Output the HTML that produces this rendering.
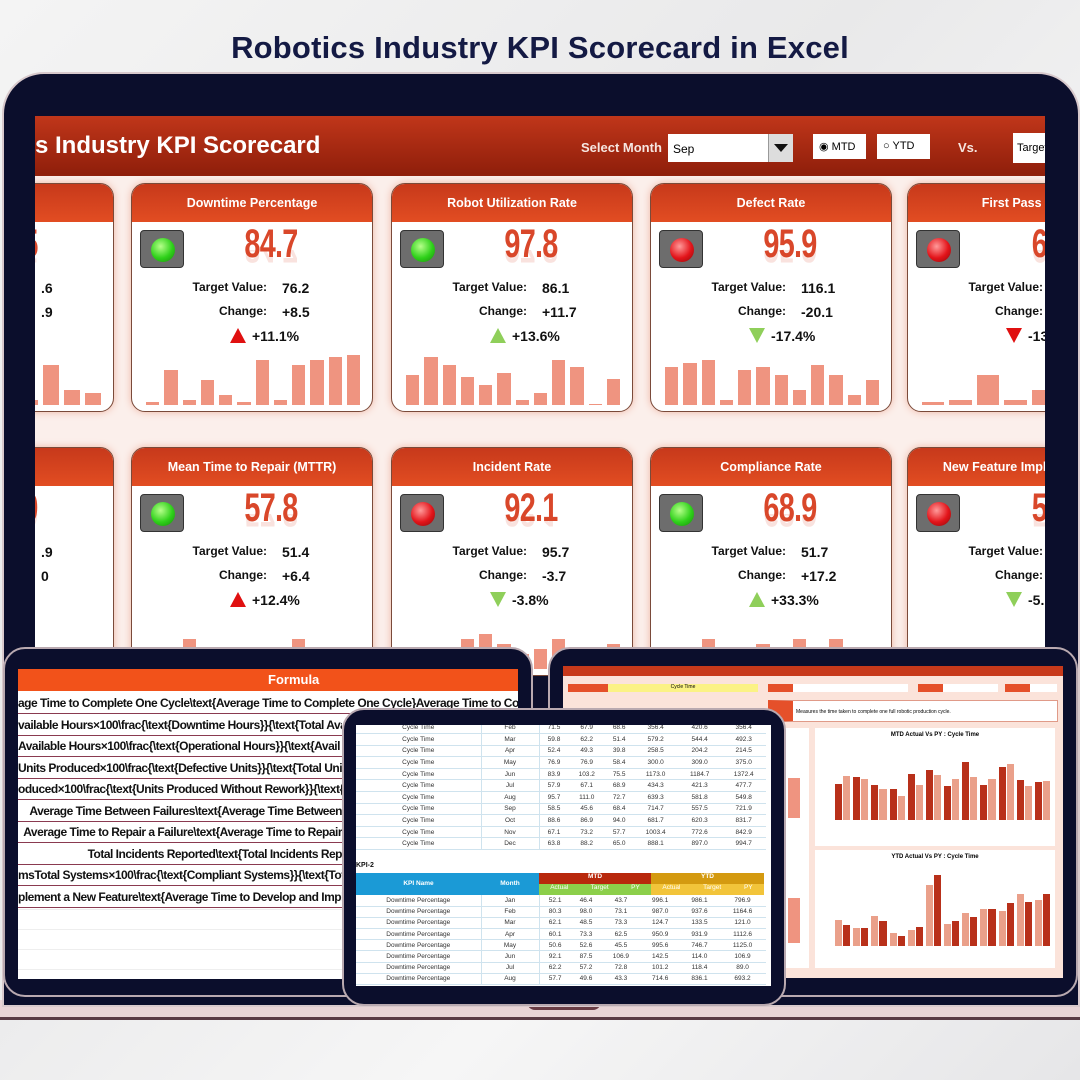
<!DOCTYPE html>
<html><head><meta charset="utf-8">
<style>
*{margin:0;padding:0;box-sizing:border-box}
body{width:1080px;height:1080px;overflow:hidden;background:linear-gradient(135deg,#f4f4f4,#e9e9ea 40%,#f6f6f6 70%,#e6e6e8);font-family:"Liberation Sans",sans-serif;position:relative}
.abs{position:absolute}
h1{position:absolute;top:30px;left:0;width:1080px;text-align:center;font-size:31px;color:#141a44;font-weight:bold;letter-spacing:.2px}
#mon{left:2px;top:72px;width:1078px;height:935px;background:#0b0e2c;border-radius:42px 42px 0 0;border:2px solid #d8c9cc}
#scr{left:35px;top:116px;width:1010px;height:560px;background:#fbefeb;overflow:hidden}
#hdr{left:0;top:0;width:1010px;height:60px;background:linear-gradient(#c0361a,#8e1e0a)}
#hdr .t{left:0;top:16px;color:#fff;font-size:24px;font-weight:bold}
.card{position:absolute;width:242px;height:229px;background:#fff;border:1px solid #7a4a3a;border-radius:14px;overflow:hidden;box-shadow:0 0 8px #f0b6a4}
.card .ch{height:38px;background:linear-gradient(#c7391b,#e24d22);color:#fff;font-weight:bold;font-size:12.5px;text-align:center;line-height:38px;white-space:nowrap}
.lt{position:absolute;left:8px;top:46px;width:44px;height:38px;background:#6d6d6d;border:1px solid #333;border-radius:4px}
.lt i{position:absolute;left:10px;top:7px;width:24px;height:24px;border-radius:50%}
.g{background:radial-gradient(circle at 40% 35%,#b6ff8a,#2fd11a 55%,#178a0a)}
.r{background:radial-gradient(circle at 40% 35%,#ff9a9a,#e3141a 55%,#8a0a0a)}
.big{position:absolute;left:79px;width:120px;top:38px;text-align:center;font-size:40px;font-weight:bold;color:#d9472a;transform:scaleX(.72);letter-spacing:-1px}
.refl{position:absolute;left:79px;width:120px;top:66px;text-align:center;font-size:40px;font-weight:bold;color:#d9472a;transform:scaleX(.72) scaleY(-1);opacity:.15;letter-spacing:-1px;height:20px;overflow:hidden}
.lab{position:absolute;font-size:12px;font-weight:bold;color:#111}
.val{position:absolute;font-size:14px;font-weight:bold;color:#111}
.pct{position:absolute;font-size:14px;font-weight:bold;color:#111}
.bars{position:absolute;left:14px;bottom:6px;width:214px;height:60px;display:flex;align-items:flex-end;gap:5px}
.bars b{flex:1;background:#ef9480}
.tab{border-radius:22px;background:#0b0e2c;border:2px solid #b9a9b0}
table{border-collapse:collapse}
</style></head><body>
<h1>Robotics Industry KPI Scorecard in Excel</h1>
<div class="abs" style="left:0;top:1000px;width:1080px;height:20px;background:#e9d4d6;border-bottom:3px solid #5a3a44"></div>
<div class="abs" style="left:527px;top:1000px;width:74px;height:10px;background:#6a3c44;border-radius:0 0 8px 8px"></div>
<div id="mon" class="abs"></div>
<div id="scr" class="abs">
 <div id="hdr" class="abs"><div class="abs t">s Industry KPI Scorecard</div>
  <div class="abs" style="left:546px;top:24px;color:#f6e6e0;font-weight:bold;font-size:13px">Select Month</div>
  <div class="abs" style="left:633px;top:18px;width:125px;height:28px;background:#fff;font-size:12px;padding:8px 5px">Sep</div>
  <div class="abs" style="left:733px;top:18px;width:25px;height:28px;background:#ddd;border-left:1px solid #999"><div class="abs" style="left:5px;top:10px;border-left:7px solid transparent;border-right:7px solid transparent;border-top:8px solid #111"></div></div>
  <div class="abs" style="left:778px;top:18px;width:53px;height:25px;background:#fff;font-size:11px;padding:6px 6px">◉ MTD</div>
  <div class="abs" style="left:842px;top:18px;width:53px;height:25px;background:#fff;font-size:11px;padding:6px 6px">○ YTD</div>
  <div class="abs" style="left:923px;top:24px;color:#f6e6e0;font-weight:bold;font-size:13px">Vs.</div>
  <div class="abs" style="left:978px;top:17px;width:40px;height:30px;background:#fff;font-size:11px;padding:9px 4px">Target</div>
 </div>
 <div id="cards"></div>
</div>

<div class="abs tab" style="left:3px;top:647px;width:530px;height:350px"></div>
<div class="abs" style="left:18px;top:669px;width:500px;height:310px;background:#fff;overflow:hidden" id="ltab">
 <div class="abs" style="left:0;top:0;width:500px;height:22px;background:#f2521a;color:#fff;font-weight:bold;font-size:13px;padding:3px 0 0 250px">Formula</div>
</div>
<div class="abs tab" style="left:548px;top:647px;width:530px;height:350px"></div>
<div class="abs" style="left:563px;top:666px;width:500px;height:312px;background:#fbe3da;overflow:hidden" id="rtab">
 <div class="abs" style="left:0;top:0;width:500px;height:10px;background:#c7391b"></div>
 <div class="abs" style="left:5px;top:18px;width:40px;height:8px;background:#e5502a"></div>
 <div class="abs" style="left:45px;top:18px;width:150px;height:8px;background:#fbf285;font-size:5px;text-align:center">Cycle Time</div>
 <div class="abs" style="left:205px;top:18px;width:140px;height:8px;background:#fff;border-left:25px solid #e5502a"></div>
 <div class="abs" style="left:355px;top:18px;width:80px;height:8px;background:#fff;border-left:25px solid #e5502a"></div>
 <div class="abs" style="left:442px;top:18px;width:52px;height:8px;background:#fff;border-left:25px solid #e5502a"></div>
 <div class="abs" style="left:205px;top:34px;width:290px;height:22px;background:#fff;border:1px solid #e09a88;border-left:25px solid #e5502a;font-size:5px;padding:8px 3px">Measures the time taken to complete one full robotic production cycle.</div>
 <div class="abs" style="left:252px;top:62px;width:240px;height:118px;background:#fff"><div style="font-size:6px;font-weight:bold;text-align:center;margin-top:4px">MTD Actual Vs PY : Cycle Time</div><div id="c1" class="abs" style="left:20px;top:20px;width:215px;height:72px;display:flex;align-items:flex-end;gap:3px"></div></div>
 <div class="abs" style="left:252px;top:184px;width:240px;height:118px;background:#fff"><div style="font-size:6px;font-weight:bold;text-align:center;margin-top:4px">YTD Actual Vs PY : Cycle Time</div><div id="c2" class="abs" style="left:20px;top:18px;width:215px;height:78px;display:flex;align-items:flex-end;gap:3px"></div></div>
 <div class="abs" style="left:210px;top:62px;width:36px;height:240px;background:#fff"></div>
 <div class="abs" style="left:225px;top:112px;width:12px;height:40px;background:#ef9480"></div>
 <div class="abs" style="left:225px;top:232px;width:12px;height:45px;background:#ef9480"></div>
</div>
<div class="abs tab" style="left:342px;top:708px;width:444px;height:298px"></div>
<div class="abs" style="left:356px;top:725px;width:415px;height:261px;background:#fff;overflow:hidden;font-size:6.5px;color:#333" id="mtab"></div>

<script>
const cards=[
["",-145,"5","g",".6",".9","%",1,[10,5,40,15,12]],
["Downtime Percentage",96,"84.7","g","76.2","+8.5","+11.1%",1,[3,35,5,25,10,3,45,5,40,45,48,50]],
["Robot Utilization Rate",356,"97.8","g","86.1","+11.7","+13.6%",0,[30,48,40,28,20,32,5,12,45,38,1,26]],
["Defect Rate",615,"95.9","r","116.1","-20.1","-17.4%",2,[38,42,45,5,35,38,30,15,40,30,10,25]],
["First Pass Yield",872,"69","r","","","-13",3,[3,5,30,5,15,45,35,40]],
["es (MTBF)",-145,"0","g",".9","0","",1,[]],
["Mean Time to Repair (MTTR)",96,"57.8","g","51.4","+6.4","+12.4%",1,[5,10,30,5,20,20,10,15,30,10,20,20]],
["Incident Rate",356,"92.1","r","95.7","-3.7","-3.8%",2,[10,20,15,30,35,25,15,20,30,10,20,25]],
["Compliance Rate",615,"68.9","g","51.7","+17.2","+33.3%",0,[10,20,30,15,20,25,20,30,20,30,20,15]],
["New Feature Implementation",872,"52","r","","","-5.",2,[]]];
let h="";
cards.forEach((c,i)=>{const top=i<5?67:331;const w=c[1]<0?224:242;
const arrow=c[7]==1?'<span style="display:inline-block;border-left:8px solid transparent;border-right:8px solid transparent;border-bottom:15px solid #e01010;margin-right:6px;vertical-align:-2px"></span>':c[7]==0?'<span style="display:inline-block;border-left:8px solid transparent;border-right:8px solid transparent;border-bottom:15px solid #8fcf5a;margin-right:6px;vertical-align:-2px"></span>':c[7]==2?'<span style="display:inline-block;border-left:8px solid transparent;border-right:8px solid transparent;border-top:15px solid #8fcf5a;margin-right:6px;vertical-align:-2px"></span>':'<span style="display:inline-block;border-left:8px solid transparent;border-right:8px solid transparent;border-top:15px solid #e01010;margin-right:6px;vertical-align:-2px"></span>';
h+=`<div class="card" style="left:${c[1]}px;top:${top}px;width:${w}px"><div class="ch">${c[0]}</div>
<div class="lt"><i class="${c[3]}"></i></div><div class="big">${c[2]}</div><div class="refl">${c[2]}</div>
<div class="lab" style="left:40px;width:95px;text-align:right;top:96px">Target Value:</div><div class="val" style="left:150px;top:96px">${c[4]}</div>
<div class="lab" style="left:40px;width:95px;text-align:right;top:120px">Change:</div><div class="val" style="left:150px;top:120px">${c[5]}</div>
<div class="pct" style="left:98px;top:144px">${arrow}${c[6]}</div>
<div class="bars" style="${c[1]<0?'left:110px;width:100px':''}">${c[8].map(v=>`<b style="height:${v}px"></b>`).join("")}</div></div>`;});
document.getElementById("cards").innerHTML=h;
const f=["age Time to Complete One Cycle\\text{Average Time to Complete One Cycle}Average Time to Comp",
"vailable Hours×100\\frac{\\text{Downtime Hours}}{\\text{Total Ava",
"Available Hours×100\\frac{\\text{Operational Hours}}{\\text{Avail",
" Units Produced×100\\frac{\\text{Defective Units}}{\\text{Total Unit",
"oduced×100\\frac{\\text{Units Produced Without Rework}}{\\text{T",
"Average Time Between Failures\\text{Average Time Between",
"Average Time to Repair a Failure\\text{Average Time to Repair",
"Total Incidents Reported\\text{Total Incidents Rep",
"msTotal Systems×100\\frac{\\text{Compliant Systems}}{\\text{Tota",
"plement a New Feature\\text{Average Time to Develop and Imple"];
let l="";f.forEach((t,i)=>{const y=24+i*21.5;
l+=`<div class="abs" style="top:${y}px;left:0;width:${i==0?510:324}px;height:21px;border-bottom:1px solid #8a3a50;font-size:12px;font-weight:bold;white-space:nowrap;overflow:hidden;text-align:${i<5||i==8||i==9?'left':'right'};line-height:21px;letter-spacing:-.5px;color:#111">${t}</div>`;});
for(let i=0;i<4;i++)l+=`<div class="abs" style="top:${240+i*20}px;left:0;width:500px;border-bottom:1px solid #eee"></div>`;
document.getElementById("ltab").innerHTML+=l;
const m=[[60,73],[71,68],[59,51],[52,40],[76,58],[84,75],[57,69],[96,72],[58,68],[89,94],[67,57],[64,65]];
document.getElementById("c1").innerHTML=m.map(p=>`<div style="flex:1;display:flex;align-items:flex-end;gap:1px;height:100%"><b style="flex:1;height:${p[0]*0.6}px;background:#b8301a"></b><b style="flex:1;height:${p[1]*0.6}px;background:#eaa08a"></b></div>`).join("");
const y=[[500,410],[350,350],[580,490],[250,200],[300,370],[1170,1370],[430,480],[640,550],[710,720],[680,830],[1000,840],[890,995]];
document.getElementById("c2").innerHTML=y.map(p=>`<div style="flex:1;display:flex;align-items:flex-end;gap:1px;height:100%"><b style="flex:1;height:${p[0]*0.052}px;background:#eaa08a"></b><b style="flex:1;height:${p[1]*0.052}px;background:#b8301a"></b></div>`).join("");
const mo=["Feb","Mar","Apr","May","Jun","Jul","Aug","Sep","Oct","Nov","Dec"];
const d1=[[71.5,67.9,68.6,356.4,420.6,356.4],[59.8,62.2,51.4,579.2,544.4,492.3],[52.4,49.3,39.8,258.5,204.2,214.5],[76.9,76.9,58.4,300.0,309.0,375.0],[83.9,103.2,75.5,1173.0,1184.7,1372.4],[57.9,67.1,68.9,434.3,421.3,477.7],[95.7,111.0,72.7,639.3,581.8,549.8],[58.5,45.6,68.4,714.7,557.5,721.9],[88.6,86.9,94.0,681.7,620.3,831.7],[67.1,73.2,57.7,1003.4,772.6,842.9],[63.8,88.2,65.0,888.1,897.0,994.7]];
let t=`<table style="position:absolute;left:0;top:-3px;width:410px">`;
d1.forEach((r,i)=>{t+=`<tr style="height:11.6px;border-bottom:1px solid #cfe3ee"><td style="width:125px;text-align:center">Cycle Time</td><td style="width:58px;text-align:center;border-left:1px solid #cfe3ee;border-right:1px solid #cfe3ee">${mo[i]}</td>${r.map(v=>`<td style="text-align:center">${v.toFixed(1)}</td>`).join("")}</tr>`;});
t+="</table>";
t+=`<div class="abs" style="left:0;top:137px;font-weight:bold;font-size:7px;color:#111">KPI-2</div>
<div class="abs" style="left:0;top:148px;width:125px;height:22px;background:#1b9ad6;color:#fff;text-align:center;line-height:22px;font-weight:bold">KPI Name</div>
<div class="abs" style="left:125px;top:148px;width:58px;height:22px;background:#1b9ad6;color:#fff;text-align:center;line-height:22px;font-weight:bold">Month</div>
<div class="abs" style="left:183px;top:148px;width:112px;height:11px;background:#b8280c;color:#fff;text-align:center;font-weight:bold">MTD</div>
<div class="abs" style="left:295px;top:148px;width:113px;height:11px;background:#d49a10;color:#fff;text-align:center;font-weight:bold">YTD</div>
<div class="abs" style="left:183px;top:159px;width:112px;height:11px;background:#8ccf4a;color:#fff;display:flex;justify-content:space-around">Actual<span>Target</span><span>PY</span></div>
<div class="abs" style="left:295px;top:159px;width:113px;height:11px;background:#f2c43a;color:#fff;display:flex;justify-content:space-around">Actual<span>Target</span><span>PY</span></div>`;
const d2=[["Jan",52.1,46.4,43.7,996.1,986.1,796.9],["Feb",80.3,98.0,73.1,987.0,937.6,1164.6],["Mar",62.1,48.5,73.3,124.7,133.5,121.0],["Apr",60.1,73.3,62.5,950.9,931.9,1112.6],["May",50.6,52.6,45.5,995.6,746.7,1125.0],["Jun",92.1,87.5,106.9,142.5,114.0,106.9],["Jul",62.2,57.2,72.8,101.2,118.4,89.0],["Aug",57.7,49.6,43.3,714.6,836.1,693.2]];
t+=`<table style="position:absolute;left:0;top:170px;width:410px">`;
d2.forEach(r=>{t+=`<tr style="height:11.2px;border-bottom:1px solid #cfe3ee"><td style="width:125px;text-align:center">Downtime Percentage</td><td style="width:58px;text-align:center;border-left:1px solid #cfe3ee;border-right:1px solid #cfe3ee">${r[0]}</td>${r.slice(1).map(v=>`<td style="text-align:center">${v.toFixed(1)}</td>`).join("")}</tr>`;});
t+="</table>";
document.getElementById("mtab").innerHTML=t;
</script>
</body></html>
